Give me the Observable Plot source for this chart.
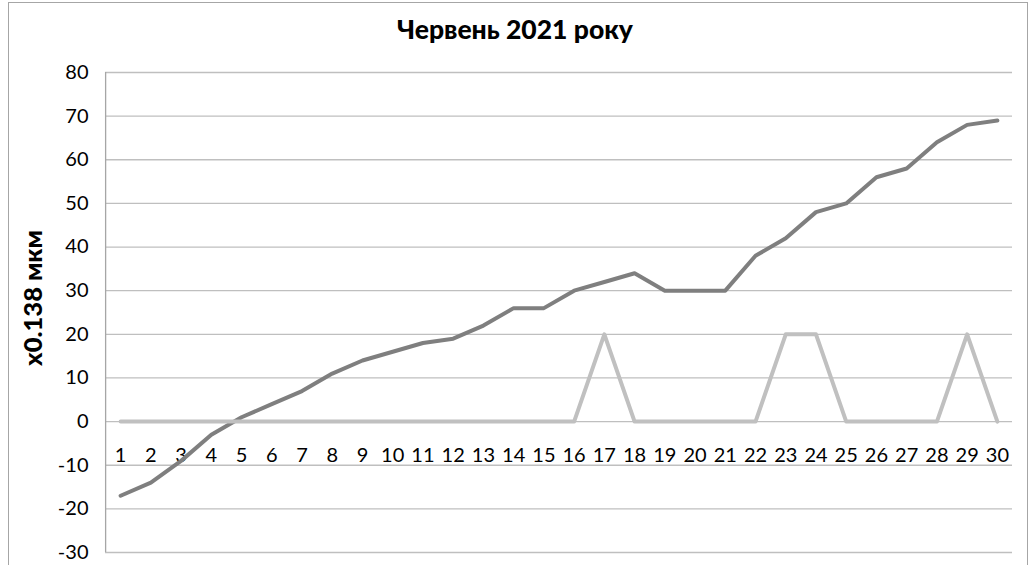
<!DOCTYPE html>
<html>
<head>
<meta charset="utf-8">
<script src="https://cdn.jsdelivr.net/npm/d3@7"></script>
<script src="https://cdn.jsdelivr.net/npm/@observablehq/plot@0.6"></script>
<style>
  html, body { margin: 0; padding: 0; background: #fff; }
  #wrap { position: relative; width: 1030px; height: 565px; overflow: hidden; font-family: Lato, "Open Sans", sans-serif; }
  #frame { position: absolute; left: 8px; top: 2px; width: 1020px; height: 600px; border: 1px solid #a6a6a6; box-sizing: border-box; }
  #title { position: absolute; left: 0; width: 1030px; top: 13px; text-align: center; font-weight: 900; font-size: 26.5px; color: #000; line-height: 32px; }
  #ylabel { position: absolute; left: 32px; top: 298px; transform: translate(-50%, -50%) rotate(-90deg); white-space: nowrap; font-weight: 900; font-size: 25.5px; color: #000; }
  #chart { position: absolute; left: 0; top: 0; }
</style>
</head>
<body>
<div id="wrap">
  <div id="frame"></div>
  <div id="chart"></div>
  <div id="title">Червень 2021 року</div>
  <div id="ylabel">x0.138 мкм</div>
</div>
<script>
const days = d3.range(1, 31);
const seriesDark = [-17, -14, -9, -3, 1, 4, 7, 11, 14, 16, 18, 19, 22, 26, 26, 30, 32, 34, 30, 30, 30, 38, 42, 48, 50, 56, 58, 64, 68, 69];
const seriesLight = [0, 0, 0, 0, 0, 0, 0, 0, 0, 0, 0, 0, 0, 0, 0, 0, 20, 0, 0, 0, 0, 0, 20, 20, 0, 0, 0, 0, 20, 0];
const yTicks = [-30, -20, -10, 0, 10, 20, 30, 40, 50, 60, 70, 80];

const dark = days.map((d, i) => ({day: d, value: seriesDark[i]}));
const light = days.map((d, i) => ({day: d, value: seriesLight[i]}));

const chart = Plot.plot({
  width: 1030,
  height: 565,
  marginLeft: 105,
  marginRight: 18,
  marginTop: 72,
  marginBottom: 13,
  style: {fontFamily: "Lato, 'Open Sans', sans-serif", fontSize: "20px", color: "#000", background: "transparent"},
  x: {type: "point", domain: days, padding: 0.5, round: false, axis: null},
  y: {domain: [-30, 80], axis: null},
  marks: [
    Plot.ruleY(yTicks, {stroke: "#bfbfbf", strokeWidth: 1.3}),
    Plot.ruleX([1], {y1: -30, y2: 80, stroke: "#a6a6a6", strokeWidth: 1.3, dx: -15}),
    Plot.text(yTicks, {frameAnchor: "left", y: d => d, text: d => String(d), textAnchor: "end", dx: -17, fill: "#000", fontSize: 20}),
    Plot.text(days, {x: d => d, y: 0, text: d => String(d), dy: 34, fill: "#000", fontSize: 20}),
    Plot.line(dark, {x: "day", y: "value", stroke: "#7f7f7f", strokeWidth: 4}),
    Plot.line(light, {x: "day", y: "value", stroke: "#c0c0c0", strokeWidth: 4})
  ]
});
document.getElementById("chart").appendChild(chart);
</script>
</body>
</html>
